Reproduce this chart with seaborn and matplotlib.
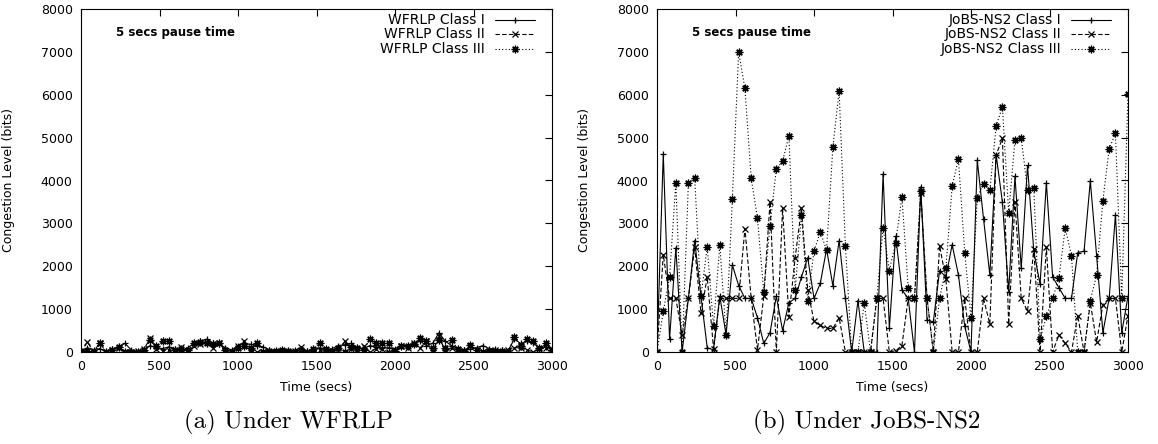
import matplotlib
matplotlib.use("Agg")
import matplotlib.pyplot as plt
import seaborn as sns
import pandas as pd

# ---------------- data ----------------
time_secs = [0, 40, 80, 120, 160, 200, 240, 280, 320, 360, 400, 440, 480, 520, 560, 600,
             640, 680, 720, 760, 800, 840, 880, 920, 960, 1000, 1040, 1080, 1120, 1160,
             1200, 1240, 1280, 1320, 1360, 1400, 1440, 1480, 1520, 1560, 1600, 1640, 1680,
             1720, 1760, 1800, 1840, 1880, 1920, 1960, 2000, 2040, 2080, 2120, 2160, 2200,
             2240, 2280, 2320, 2360, 2400, 2440, 2480, 2520, 2560, 2600, 2640, 2680, 2720,
             2760, 2800, 2840, 2880, 2920, 2960, 3000]

wfrlp_class1 = [0, 100, 50, 80, 0, 60, 120, 200, 50, 0, 30, 150, 100, 80, 120, 60, 40, 100,
                200, 250, 300, 200, 180, 100, 50, 150, 200, 180, 150, 120, 50, 20, 30, 20, 40,
                30, 20, 50, 100, 50, 80, 150, 170, 200, 100, 80, 150, 120, 100, 100, 80, 150,
                150, 200, 250, 150, 200, 450, 250, 150, 80, 50, 60, 100, 150, 80, 60, 40, 30,
                300, 200, 250, 200, 100, 120, 80]
wfrlp_class2 = [0, 230, 20, 200, 0, 40, 100, 0, 0, 20, 60, 320, 80, 30, 40, 0, 120, 0, 150,
                180, 230, 100, 200, 0, 0, 150, 250, 0, 0, 0, 0, 0, 0, 0, 20, 120, 0, 0, 50, 0,
                30, 30, 250, 80, 50, 150, 0, 80, 60, 0, 50, 150, 100, 200, 100, 250, 0, 380, 0,
                100, 50, 0, 150, 50, 0, 30, 50, 0, 50, 100, 100, 50, 0, 80, 100, 80]
wfrlp_class3 = [0, 20, 0, 220, 0, 50, 120, 0, 0, 0, 50, 270, 150, 250, 250, 50, 80, 40, 220,
                230, 200, 180, 200, 50, 0, 100, 150, 100, 200, 0, 30, 30, 40, 20, 0, 50, 0, 80,
                220, 80, 0, 100, 0, 120, 100, 40, 300, 200, 200, 200, 20, 150, 150, 180, 330,
                260, 100, 270, 100, 270, 80, 30, 160, 40, 0, 20, 20, 30, 0, 350, 150, 300, 250,
                100, 200, 50]

jobs_class1 = [0, 4620, 300, 2430, 0, 1250, 2600, 1300, 100, 50, 1300, 400, 2030, 1550, 1250,
               1250, 800, 200, 450, 1300, 500, 1150, 1250, 1750, 2200, 1250, 1600, 2400, 1550,
               2600, 1250, 0, 1200, 0, 0, 0, 4150, 550, 2700, 1450, 1250, 0, 3850, 750, 700,
               1900, 1750, 2500, 1800, 600, 0, 4470, 3100, 1800, 4600, 3500, 1400, 4100, 1950,
               4350, 2350, 1580, 3950, 1750, 1500, 1250, 1250, 2320, 2350, 3990, 2250, 450,
               1250, 3200, 450, 1300]
jobs_class2 = [0, 2270, 1250, 1250, 400, 1250, 2450, 900, 1750, 80, 1250, 1250, 1250, 1250,
               2880, 1250, 50, 1300, 3500, 0, 3350, 820, 2200, 3350, 1450, 720, 620, 550, 550,
               800, 0, 0, 0, 0, 0, 1250, 1250, 0, 30, 150, 1250, 1250, 3700, 1250, 0, 2480,
               1700, 0, 0, 1250, 0, 0, 1250, 650, 4600, 4980, 650, 3500, 1250, 950, 2400, 0,
               2450, 0, 400, 200, 0, 850, 0, 1150, 230, 1100, 1250, 1250, 0, 850]
jobs_class3 = [0, 950, 1750, 3950, 0, 3950, 4050, 1300, 2450, 600, 2500, 400, 3570, 7000,
               6150, 4050, 3120, 1400, 2950, 4270, 4450, 5040, 1450, 3200, 1200, 2350, 2800,
               2380, 4770, 6080, 2480, 0, 0, 1150, 0, 1250, 2900, 1900, 2550, 3620, 1500,
               1250, 3750, 1270, 0, 1250, 1950, 3870, 4500, 2320, 800, 3600, 3930, 3770, 5270,
               5720, 3250, 4950, 4990, 3780, 3830, 300, 830, 1250, 1720, 2890, 2250, 0, 0,
               1200, 1800, 3530, 4740, 5100, 1250, 6020]

wfrlp_labels = ["WFRLP Class I", "WFRLP Class II", "WFRLP Class III"]
jobs_labels = ["JoBS-NS2 Class I", "JoBS-NS2 Class II", "JoBS-NS2 Class III"]
x_ticks = [0, 500, 1000, 1500, 2000, 2500, 3000]
y_ticks = [0, 1000, 2000, 3000, 4000, 5000, 6000, 7000, 8000]
annotation = "5 secs pause time"
x_label = "Time (secs)"
y_label = "Congestion Level (bits)"
captions = ["(a) Under WFRLP", "(b) Under JoBS-NS2"]

# ---------------- style ----------------
sns.set_theme(style="white")
plt.rcParams["font.family"] = ["DejaVu Sans"]
plt.rcParams.update({
    "axes.edgecolor": "black",
    "axes.linewidth": 0.8,
    "xtick.color": "black",
    "ytick.color": "black",
    "text.color": "black",
    "axes.labelcolor": "black",
})

line_styles = [
    dict(linestyle="-", marker="+", ms=5.0),
    dict(linestyle=(0, (4, 2)), marker="x", ms=4.5),
    dict(linestyle=(0, (1, 2)), marker=(8, 2, 0), ms=5.5),
]

fig = plt.figure(figsize=(11.58, 4.44), dpi=100)
W, H = 1158, 444
axL = fig.add_axes([81 / W, 92 / H, 471 / W, 343 / H])
axR = fig.add_axes([657 / W, 92 / H, 471 / W, 343 / H])


def draw_panel(ax, series, labels):
    for vals, st in zip(series, line_styles):
        df = pd.DataFrame({"t": time_secs, "v": vals})
        sns.lineplot(data=df, x="t", y="v", ax=ax, color="black", linewidth=0.8,
                     linestyle=st["linestyle"], marker=st["marker"], markersize=st["ms"],
                     markeredgewidth=0.9, markeredgecolor="black", errorbar=None,
                     legend=False)
    ax.set_xlim(0, 3000)
    ax.set_ylim(0, 8000)
    ax.set_xticks(x_ticks)
    ax.set_yticks(y_ticks)
    ax.tick_params(direction="in", top=True, right=True, length=5, width=0.8,
                   labelsize=9, pad=6)
    for sp in ax.spines.values():
        sp.set_visible(True)
        sp.set_color("black")
        sp.set_linewidth(0.8)
    ax.set_xlabel(x_label, fontsize=9)
    ax.set_ylabel(y_label, fontsize=9)
    ax.xaxis.set_label_coords(0.5, -0.085)
    ax.yaxis.set_label_coords(-0.141, 0.5)
    ax.text(0.074, 0.931, annotation, transform=ax.transAxes, fontsize=8.5,
            fontweight="bold", ha="left", va="center")
    # gnuplot-style key: right-aligned text, sample line with marker on the right
    rows = [0.968, 0.927, 0.883]
    for lab, st, yk in zip(labels, line_styles, rows):
        ax.text(0.858, yk, lab, transform=ax.transAxes, fontsize=10, ha="right",
                va="center")
        ax.plot([0.88, 0.963], [yk, yk], transform=ax.transAxes, color="black",
                linewidth=0.8, linestyle=st["linestyle"], clip_on=False)
        ax.plot([0.9215], [yk], transform=ax.transAxes, color="black",
                marker=st["marker"], markersize=st["ms"], markeredgewidth=0.9,
                linestyle="none", clip_on=False)


draw_panel(axL, [wfrlp_class1, wfrlp_class2, wfrlp_class3], wfrlp_labels)
draw_panel(axR, [jobs_class1, jobs_class2, jobs_class3], jobs_labels)

fig.text(288 / W, 1 - 422 / H, captions[0], ha="center", va="center",
         family=["cmr10", "DejaVu Serif"], fontsize=18)
fig.text(867 / W, 1 - 422 / H, captions[1], ha="center", va="center",
         family=["cmr10", "DejaVu Serif"], fontsize=18)

fig.savefig("out.png", dpi=100, facecolor="white")
